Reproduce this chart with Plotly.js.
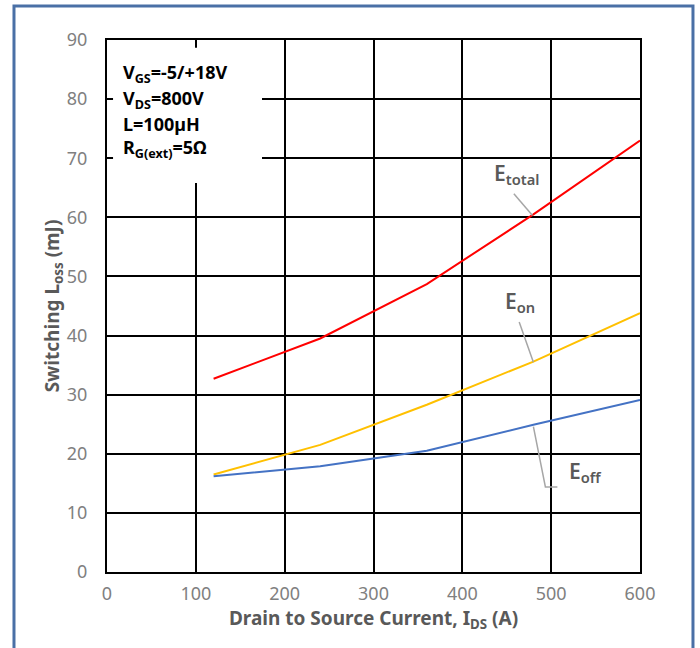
<!DOCTYPE html>
<html>
<head>
<meta charset="utf-8">
<script src="https://cdn.plot.ly/plotly-3.0.1.min.js"></script>
<style>html,body{margin:0;padding:0;background:#fff;}#chart{width:700px;height:648px;}</style>
</head>
<body>
<div id="chart"></div>
<script>
var current = [120, 240, 360, 480, 600];
var eTotal = [32.7, 39.5, 48.7, 60.5, 73.0];
var eOn = [16.5, 21.5, 28.3, 35.6, 43.8];
var eOff = [16.2, 17.9, 20.5, 24.9, 29.1];
var xTicks = [0, 100, 200, 300, 400, 500, 600];
var yTicks = [0, 10, 20, 30, 40, 50, 60, 70, 80, 90];
var conditions = ["V<sub>GS</sub>=-5/+18V", "V<sub>DS</sub>=800V", "L=100µH", "R<sub>G(ext)</sub>=5Ω"];

var fontFam = "Noto Sans, Open Sans, sans-serif";

var traces = [
  {x: current, y: eTotal, mode: 'lines', line: {color: '#ff0000', width: 2}, name: 'Etotal'},
  {x: current, y: eOn, mode: 'lines', line: {color: '#ffc000', width: 2}, name: 'Eon'},
  {x: current, y: eOff, mode: 'lines', line: {color: '#4472c4', width: 2}, name: 'Eoff'}
];

var annotations = [];
var condY = [84.4, 80.0, 75.8, 71.6];
conditions.forEach(function(t, i){
  annotations.push({x: 16, y: condY[i], xref: 'x', yref: 'y', text: '<b>' + t + '</b>', showarrow: false,
    xanchor: 'left', yanchor: 'middle', font: {family: fontFam, size: 18, color: '#000'}});
});
var labFont = {family: fontFam, size: 21, color: '#595959', weight: 600};
annotations.push({x: 433, y: 67.3, xref: 'x', yref: 'y', text: 'E<sub>total</sub>', showarrow: false, xanchor: 'left', yanchor: 'middle', font: labFont});
annotations.push({x: 446, y: 45.7, xref: 'x', yref: 'y', text: 'E<sub>on</sub>', showarrow: false, xanchor: 'left', yanchor: 'middle', font: labFont});
annotations.push({x: 518, y: 17.0, xref: 'x', yref: 'y', text: 'E<sub>off</sub>', showarrow: false, xanchor: 'left', yanchor: 'middle', font: labFont});

var shapes = [
  {type: 'rect', xref: 'paper', yref: 'paper', x0: -0.1745, x1: 1.0994, y0: -0.2, y1: 1.0639, line: {color: '#4a70a6', width: 3}, fillcolor: 'rgba(0,0,0,0)', layer: 'below'},
  {type: 'rect', xref: 'x', yref: 'y', x0: 6.8, x1: 174.5, y0: 65.8, y1: 88.7, line: {width: 0}, fillcolor: '#ffffff', layer: 'above'},
  {type: 'line', xref: 'x', yref: 'y', x0: 458, y0: 64.0, x1: 479, y1: 60.3, line: {color: '#a6a6a6', width: 1.5}},
  {type: 'line', xref: 'x', yref: 'y', x0: 464, y0: 42.3, x1: 480, y1: 35.5, line: {color: '#a6a6a6', width: 1.5}},
  {type: 'path', xref: 'x', yref: 'y', path: 'M 480 24.6 L 493.5 14.4 L 507 14.4', line: {color: '#a6a6a6', width: 1.5}}
];

var layout = {
  width: 700, height: 648,
  margin: {l: 107, r: 60, t: 40, b: 76},
  paper_bgcolor: '#fff', plot_bgcolor: '#fff',
  showlegend: false,
  font: {family: fontFam},
  xaxis: {range: [0, 600], tickvals: xTicks, ticks: '', showgrid: true, gridcolor: '#000', gridwidth: 2,
    zeroline: false, showline: true, linecolor: '#000', linewidth: 2, mirror: true,
    tickfont: {family: fontFam, size: 18, color: '#808080'}, ticklabelstandoff: 4,
    title: {text: '<b>Drain to Source Current, I<sub>DS</sub> (A)</b>', font: {family: fontFam, size: 19, color: '#595959'}, standoff: 4}},
  yaxis: {range: [0, 90], tickvals: yTicks, ticks: '', showgrid: true, gridcolor: '#000', gridwidth: 2,
    zeroline: false, showline: true, linecolor: '#000', linewidth: 2, mirror: true,
    tickfont: {family: fontFam, size: 18, color: '#808080'}, ticklabelstandoff: 14,
    title: {text: '<b>Switching L<sub>oss</sub> (mJ)</b>', font: {family: fontFam, size: 19, color: '#595959'}, standoff: 0}},
  annotations: annotations,
  shapes: shapes
};

Plotly.newPlot('chart', traces, layout, {displayModeBar: false, staticPlot: true});
</script>
</body>
</html>
